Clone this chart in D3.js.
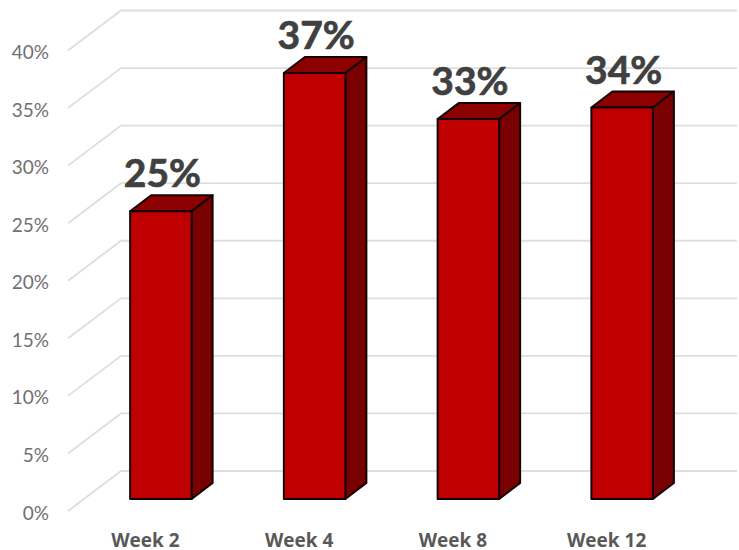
<!DOCTYPE html>
<html>
<head>
<meta charset="utf-8">
<script src="https://cdn.jsdelivr.net/npm/d3@7"></script>
<style>
	html, body { margin: 0; padding: 0; background: #fff; }
	svg { display: block; }
	.axis path, .axis line { display: none; }
</style>
</head>
<body>
<svg></svg>
<script>
	let weeks = ['Week 2', 'Week 4', 'Week 8', 'Week 12'];
	let percents = [25, 37, 33, 34];
	let yTicks = [0, 5, 10, 15, 20, 25, 30, 35, 40];

	let width = 739;
	let height = 550;

	// offset of the back wall from the front of the chart
	let depthX = 53;
	let depthY = -40;
	// offset of the back of a bar from its front
	let barDepthX = 21;
	let barDepthY = -16;

	let y = d3.scaleLinear().domain([0, 40]).range([511, 50.5]);
	let x = d3.scaleBand().domain(weeks).range([83.5, 698.5]).paddingInner(0.6).paddingOuter(0.3);

	let svg = d3.select('svg')
		.attr('width', width)
		.attr('height', height)
		.attr('viewBox', [0, 0, width, height]);

	let grid = svg.append('g').attr('class', 'grid');

	grid.selectAll('path')
		.data(yTicks)
		.enter()
		.append('path')
		.attr('d', function(d) {
			return 'M68,' + y(d) + 'L' + (68 + depthX) + ',' + (y(d) + depthY) + 'L737,' + (y(d) + depthY);
		})
		.attr('fill', 'none')
		.attr('stroke', '#dedede')
		.attr('stroke-width', 1.8);

	let yAxis = svg.append('g')
		.attr('class', 'axis')
		.attr('transform', 'translate(58,2)')
		.call(d3.axisLeft(y).tickValues(yTicks).tickSize(0).tickPadding(9).tickFormat(function(d) { return d + '%'; }));

	yAxis.selectAll('text')
		.attr('font-family', 'Lato')
		.attr('font-size', 19)
		.attr('fill', '#707070');

	let bars = svg.append('g')
		.attr('class', 'bars')
		.selectAll('g')
		.data(weeks)
		.enter()
		.append('g');

	// front base of the bars sits part way between the front edge and the back wall
	let baseShift = -12;

	function barLeft(d) { return x(d) + 0.5; }
	function barRight(d) { return barLeft(d) + x.bandwidth(); }
	function barTop(i) { return y(percents[i]) + baseShift; }
	function barBottom() { return y(0) + baseShift; }

	bars.append('path')
		.attr('d', function(d, i) {
			let l = barLeft(d), r = barRight(d), t = barTop(i);
			return 'M' + l + ',' + t + 'L' + (l + barDepthX) + ',' + (t + barDepthY)
				+ 'L' + (r + barDepthX) + ',' + (t + barDepthY) + 'L' + r + ',' + t + 'Z';
		})
		.attr('fill', '#8c0000');

	bars.append('path')
		.attr('d', function(d, i) {
			let r = barRight(d), t = barTop(i), b = barBottom();
			return 'M' + r + ',' + t + 'L' + (r + barDepthX) + ',' + (t + barDepthY)
				+ 'L' + (r + barDepthX) + ',' + (b + barDepthY) + 'L' + r + ',' + b + 'Z';
		})
		.attr('fill', '#780000');

	bars.append('rect')
		.attr('x', barLeft)
		.attr('y', function(d, i) { return barTop(i); })
		.attr('width', x.bandwidth())
		.attr('height', function(d, i) { return barBottom() - barTop(i); })
		.attr('fill', '#c00000');

	// all the bar edges, drawn on top
	bars.selectAll('path, rect')
		.attr('stroke', '#120202')
		.attr('stroke-width', 2)
		.attr('stroke-linejoin', 'round');

	bars.append('text')
		.attr('x', function(d) { return x(d) + x.bandwidth() / 2 + 2; })
		.attr('y', function(d, i) { return barTop(i) - 24; })
		.attr('text-anchor', 'middle')
		.attr('font-family', 'Lato')
		.attr('font-weight', 700)
		.attr('font-size', 39)
		.attr('fill', '#404040')
		.attr('stroke', '#404040')
		.attr('stroke-width', 0.7)
		.text(function(d, i) { return percents[i] + '%'; });

	let xAxis = svg.append('g')
		.attr('class', 'axis')
		.attr('transform', 'translate(-15,533)')
		.call(d3.axisBottom(x).tickSize(0).tickPadding(0));

	xAxis.selectAll('text')
		.attr('font-family', 'Open Sans')
		.attr('font-weight', 700)
		.attr('font-size', 19)
		.attr('fill', '#595959');
</script>
</body>
</html>
